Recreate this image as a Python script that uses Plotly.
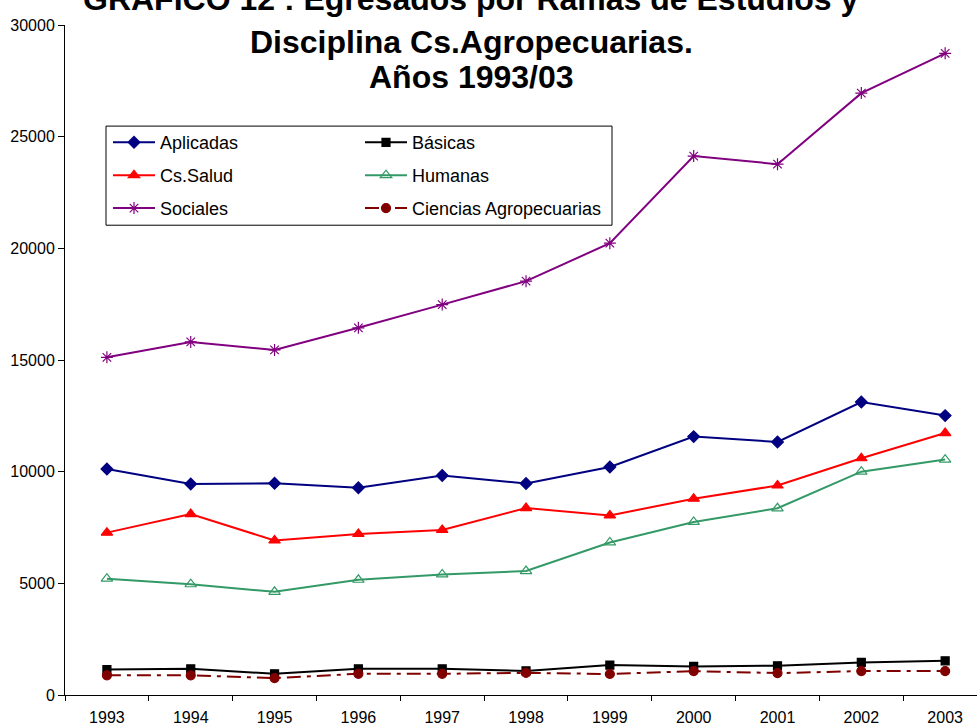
import plotly.graph_objects as go

# Egresados por rama de estudio, 1993-2003
years = ["1993", "1994", "1995", "1996", "1997", "1998", "1999", "2000", "2001", "2002", "2003"]

aplicadas = [10120, 9450, 9480, 9280, 9830, 9470, 10210, 11570, 11330, 13120, 12510]
basicas = [1140, 1170, 950, 1170, 1170, 1080, 1340, 1280, 1310, 1460, 1530]
cs_salud = [7270, 8100, 6920, 7210, 7390, 8370, 8040, 8790, 9380, 10600, 11730]
humanas = [5210, 4960, 4620, 5160, 5400, 5550, 6830, 7750, 8360, 10000, 10540]
sociales = [15120, 15810, 15450, 16440, 17480, 18530, 20230, 24130, 23770, 26950, 28730]
agropecuarias = [880, 880, 760, 950, 950, 990, 940, 1070, 980, 1070, 1070]

y_ticks = [0, 5000, 10000, 15000, 20000, 25000, 30000]

title_lines = [
    "GRAFICO 12 : Egresados por Ramas de Estudios y",
    "Disciplina Cs.Agropecuarias.",
    "Años 1993/03",
]

W, H = 977, 726
L, R, T, B = 65, 0, 25, 25
PW, PH = W - L - R, H - T - B


def px_x(p):
    return (p - L) / PW


def px_y(p):
    return (H - B - p) / PH


series = [
    ("Aplicadas", aplicadas, "#000080", "diamond", 9, "solid", "legend"),
    ("Cs.Salud", cs_salud, "#FF0000", "triangle-up", 10, "solid", "legend"),
    ("Sociales", sociales, "#800080", "asterisk-open", 10, "solid", "legend"),
    ("Básicas", basicas, "#000000", "square", 8, "solid", "legend2"),
    ("Humanas", humanas, "#339966", "triangle-up-open", 10, "solid", "legend2"),
    ("Ciencias Agropecuarias", agropecuarias, "#800000", "circle", 9,
     "14px,6px,4px,6px", "legend2"),
]

fig = go.Figure()
for name, vals, color, symbol, size, dash, leg in series:
    fig.add_trace(go.Scatter(
        x=years, y=vals, name=name, mode="lines+markers",
        legend=leg, legendgroup=name,
        line=dict(color=color, width=2, dash=dash),
        marker=dict(symbol=symbol, size=size, color=color,
                    line=dict(color=color, width=1.2)),
    ))

legend_common = dict(
    xanchor="left", yanchor="top", bgcolor="rgba(0,0,0,0)", borderwidth=0,
    font=dict(family="Liberation Sans, Arial", size=18, color="black"),
    itemwidth=42, tracegroupgap=6.5, traceorder="grouped",
)

fig.update_layout(
    width=W, height=H,
    margin=dict(l=L, r=R, t=T, b=B),
    paper_bgcolor="white", plot_bgcolor="white",
    font=dict(family="Liberation Sans, Arial", color="black", size=16),
    showlegend=True,
    legend=dict(x=px_x(108), y=px_y(125), **legend_common),
    legend2=dict(x=px_x(360), y=px_y(125), **legend_common),
    xaxis=dict(
        type="category", range=[-0.5, 10.38],
        showline=True, linecolor="black", linewidth=1,
        ticks="outside", ticklen=5, tickcolor="black", tickson="boundaries",
        showgrid=False, zeroline=False, ticklabelstandoff=8,
        tickfont=dict(size=16),
    ),
    yaxis=dict(
        range=[0, 30000], tickvals=y_ticks, tickformat="d",
        showline=True, linecolor="black", linewidth=1,
        ticks="outside", ticklen=6, tickcolor="black",
        showgrid=False, zeroline=False, tickfont=dict(size=16),
    ),
    shapes=[dict(
        type="rect", xref="paper", yref="paper",
        x0=px_x(106), x1=px_x(612), y0=px_y(227), y1=px_y(127),
        line=dict(color="black", width=1), fillcolor="rgba(0,0,0,0)",
    )],
)

title_centers = [-1, 42, 77]
for text, cy in zip(title_lines, title_centers):
    fig.add_annotation(
        text=text, xref="paper", yref="paper",
        x=px_x(471), y=px_y(cy), xanchor="center", yanchor="middle",
        showarrow=False,
        font=dict(family="Liberation Sans, Arial", size=32, color="black",
                  weight="bold"),
    )

fig.write_html("out.html")
